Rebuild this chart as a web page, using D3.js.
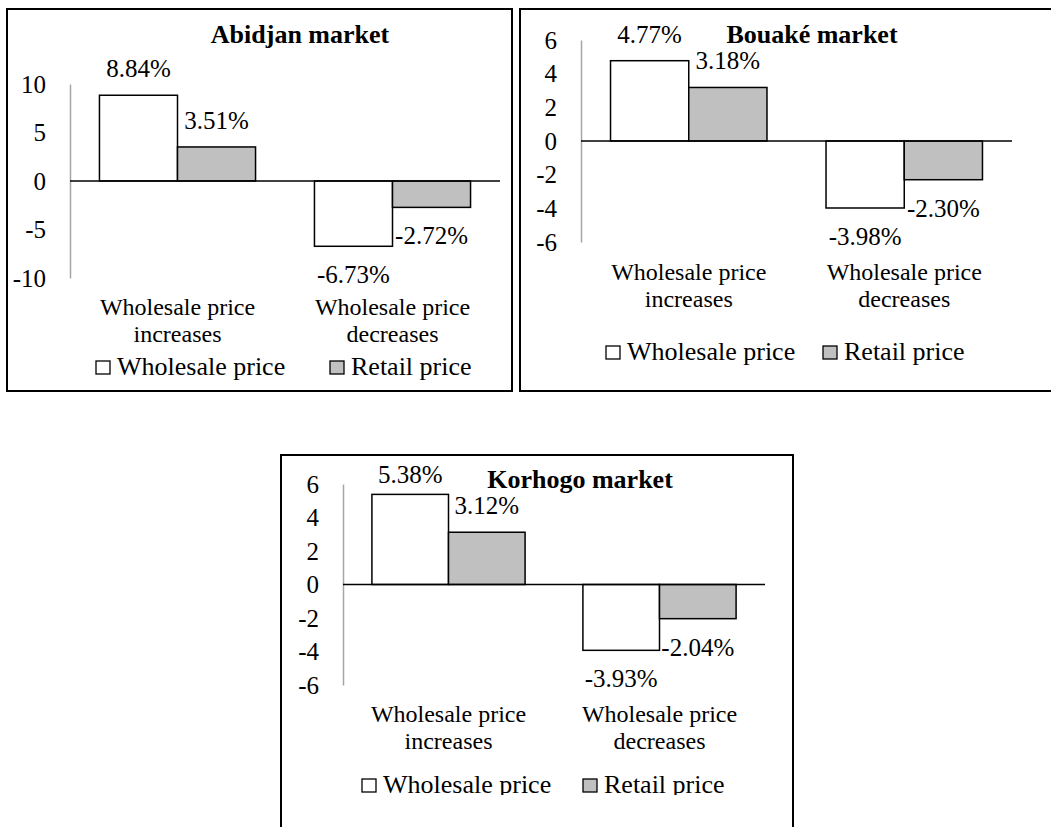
<!DOCTYPE html>
<html>
<head>
<meta charset="utf-8">
<script src="https://cdn.jsdelivr.net/npm/d3@7/dist/d3.min.js"></script>
<style>
  body { margin: 0; background: #fff; }
  svg { display: block; }
</style>
</head>
<body>
<div id="chart"></div>
<script>
// Data
var categories = ["Wholesale price increases", "Wholesale price decreases"];
var categoryLines = [["Wholesale price", "increases"], ["Wholesale price", "decreases"]];
var seriesNames = ["Wholesale price", "Retail price"];
var markets = ["Abidjan market", "Bouaké market", "Korhogo market"];

var abidjanWholesale = [8.84, -6.73];
var abidjanRetail = [3.51, -2.72];
var bouakeWholesale = [4.77, -3.98];
var bouakeRetail = [3.18, -2.30];
var korhogoWholesale = [5.38, -3.93];
var korhogoRetail = [3.12, -2.04];

var abidjanTicks = [-10, -5, 0, 5, 10];
var smallTicks = [-6, -4, -2, 0, 2, 4, 6];

var seriesFill = ["#ffffff", "#c0c0c0"];
var font = "'Liberation Serif', 'Times New Roman', Times, serif";

var W = 1051, H = 827;

// Layout for each panel
var panels = [
  {
    title: markets[0], wholesale: abidjanWholesale, retail: abidjanRetail,
    ticks: abidjanTicks, domain: [-10, 10],
    box: [7, 9, 505, 382], axisX: 70, plotRight: 500, yTop: 84, yBottom: 278,
    titleX: 300, titleY: 43, labelTop: 0, catY: 315, legendY: 375,
    legendX: [96, 330], clip: null
  },
  {
    title: markets[1], wholesale: bouakeWholesale, retail: bouakeRetail,
    ticks: smallTicks, domain: [-6, 6],
    box: [520, 9, 560, 382], axisX: 581, plotRight: 1012, yTop: 40, yBottom: 242,
    titleX: 812, titleY: 43, labelTop: 0, catY: 280, legendY: 360,
    legendX: [606, 823], clip: null
  },
  {
    title: markets[2], wholesale: korhogoWholesale, retail: korhogoRetail,
    ticks: smallTicks, domain: [-6, 6],
    box: [281, 455, 512, 420], axisX: 343, plotRight: 765, yTop: 484, yBottom: 685,
    titleX: 580, titleY: 488, labelTop: 483, catY: 722, legendY: 793,
    legendX: [362, 583], clip: 795
  }
];

// plain hyphen for negatives, like the original
function num(v) { return String(v); }
function pct(v) { return v.toFixed(2) + "%"; }

var svg = d3.select("#chart")
  .append("svg")
  .attr("width", W)
  .attr("height", H);

svg.append("rect")
  .attr("width", W)
  .attr("height", H)
  .attr("fill", "#fff");

panels.forEach(function(p, pi) {
  // Panel frame
  svg.append("rect")
    .attr("x", p.box[0])
    .attr("y", p.box[1])
    .attr("width", p.box[2])
    .attr("height", p.box[3])
    .attr("fill", "none")
    .attr("stroke", "#000")
    .attr("stroke-width", 2);

  var g = svg.append("g");
  if (p.clip) {
    svg.append("clipPath")
      .attr("id", "clip" + pi)
      .append("rect")
      .attr("x", 0).attr("y", 0)
      .attr("width", W).attr("height", p.clip);
    g.attr("clip-path", "url(#clip" + pi + ")");
  }

  var y = d3.scaleLinear()
    .domain(p.domain)
    .range([p.yBottom, p.yTop]);

  var x0 = d3.scaleBand()
    .domain(categories)
    .range([p.axisX, p.plotRight])
    .paddingInner(0.274)
    .paddingOuter(0.137);

  var x1 = d3.scaleBand()
    .domain(seriesNames)
    .range([0, x0.bandwidth()]);

  // Y axis
  var axis = g.append("g")
    .attr("transform", "translate(" + p.axisX + ",0)")
    .call(d3.axisLeft(y).tickValues(p.ticks).tickFormat(num).tickSize(0).tickPadding(24));
  axis.select(".domain")
    .attr("stroke", "#a6a6a6")
    .attr("stroke-width", 1.5);
  axis.selectAll("text")
    .attr("font-family", font)
    .attr("font-size", 25)
    .attr("fill", "#000");

  // Bars
  var rows = categories.map(function(c, i) {
    return [
      {cat: c, s: seriesNames[0], v: p.wholesale[i], k: 0},
      {cat: c, s: seriesNames[1], v: p.retail[i], k: 1}
    ];
  });
  var bars = d3.merge(rows);

  g.selectAll("rect.bar")
    .data(bars)
    .enter()
    .append("rect")
    .attr("class", "bar")
    .attr("x", function(d) { return x0(d.cat) + x1(d.s); })
    .attr("y", function(d) { return y(Math.max(0, d.v)); })
    .attr("width", x1.bandwidth())
    .attr("height", function(d) { return Math.abs(y(d.v) - y(0)); })
    .attr("fill", function(d) { return seriesFill[d.k]; })
    .attr("stroke", "#000")
    .attr("stroke-width", 1.5);

  // Zero line
  g.append("line")
    .attr("x1", p.axisX)
    .attr("x2", p.plotRight)
    .attr("y1", y(0))
    .attr("y2", y(0))
    .attr("stroke", "#000")
    .attr("stroke-width", 1.5);

  // Data labels
  g.selectAll("text.val")
    .data(bars)
    .enter()
    .append("text")
    .attr("class", "val")
    .attr("x", function(d) { return x0(d.cat) + x1(d.s) + x1.bandwidth() / 2; })
    .attr("y", function(d) {
      if (d.v >= 0) return Math.max(y(d.v) - 18, p.labelTop);
      return y(d.v) + 37;
    })
    .attr("text-anchor", "middle")
    .attr("font-family", font)
    .attr("font-size", 25)
    .text(function(d) { return pct(d.v); });

  // Title
  g.append("text")
    .attr("x", p.titleX)
    .attr("y", p.titleY)
    .attr("text-anchor", "middle")
    .attr("font-family", font)
    .attr("font-size", 26)
    .attr("font-weight", "bold")
    .text(p.title);

  // Category labels
  categories.forEach(function(c, i) {
    var t = g.append("text")
      .attr("text-anchor", "middle")
      .attr("font-family", font)
      .attr("font-size", 24);
    categoryLines[i].forEach(function(line, j) {
      t.append("tspan")
        .attr("x", x0(c) + x0.bandwidth() / 2)
        .attr("y", p.catY + j * 27)
        .text(line);
    });
  });

  // Legend
  seriesNames.forEach(function(s, k) {
    g.append("rect")
      .attr("x", p.legendX[k])
      .attr("y", p.legendY - 14)
      .attr("width", 14)
      .attr("height", 13)
      .attr("fill", seriesFill[k])
      .attr("stroke", "#000")
      .attr("stroke-width", 1.3);
    g.append("text")
      .attr("x", p.legendX[k] + 21)
      .attr("y", p.legendY)
      .attr("font-family", font)
      .attr("font-size", 26)
      .text(s);
  });
});
</script>
</body>
</html>
